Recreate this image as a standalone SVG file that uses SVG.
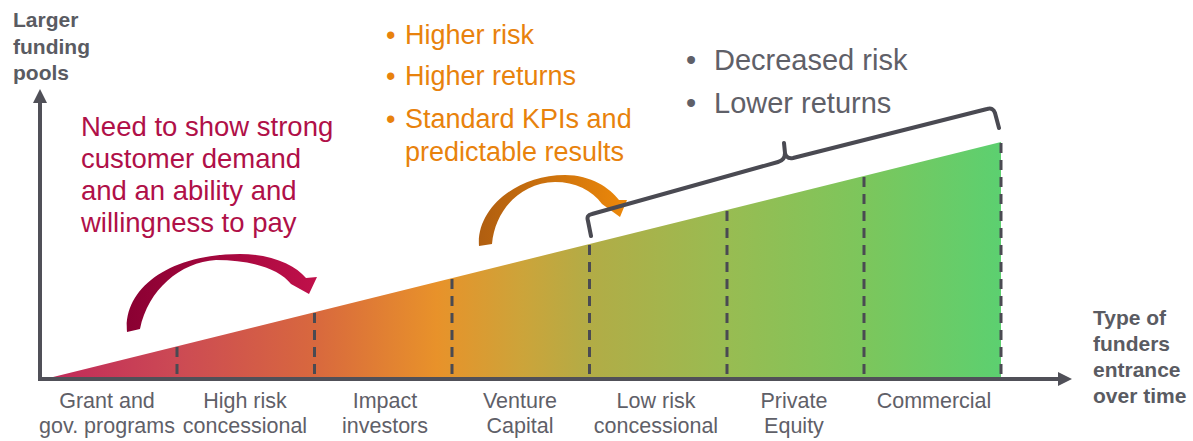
<svg xmlns="http://www.w3.org/2000/svg" width="1193" height="441" viewBox="0 0 1193 441">
  <style>
    .axis { stroke: #505058; stroke-width: 4; fill: none; }
    .axis-head { fill: #505058; }
    .divider { stroke: #4a4a52; stroke-width: 3; stroke-dasharray: 10 7; fill: none; }
    .brace { stroke: #4a4a52; stroke-width: 4; fill: none; stroke-linecap: round; stroke-linejoin: round; }
    .axis-label { font-family: "Liberation Sans", Arial, sans-serif; font-weight: bold; font-size: 21px; fill: #5a5b62; }
    .stage { font-family: "Liberation Sans", Arial, sans-serif; font-size: 21.5px; fill: #5f6068; text-anchor: middle; }
    .note-red { font-family: "Liberation Sans", Arial, sans-serif; font-size: 27.5px; fill: #b01048; }
    .note-orange { font-family: "Liberation Sans", Arial, sans-serif; font-size: 27px; fill: #e8820c; }
    .note-gray { font-family: "Liberation Sans", Arial, sans-serif; font-size: 29px; fill: #5f6068; }
  </style>
  <defs>
    <linearGradient id="rampFill" gradientUnits="userSpaceOnUse" x1="45" y1="0" x2="1001" y2="0">
      <stop offset="0" stop-color="#c0285a"/>
      <stop offset="0.138" stop-color="#cc4a54"/>
      <stop offset="0.282" stop-color="#d8683e"/>
      <stop offset="0.41" stop-color="#e8922a"/>
      <stop offset="0.5" stop-color="#cca43a"/>
      <stop offset="0.57" stop-color="#b2ac46"/>
      <stop offset="0.715" stop-color="#98bc52"/>
      <stop offset="0.857" stop-color="#7cc65c"/>
      <stop offset="1" stop-color="#5cd070"/>
    </linearGradient>
    <linearGradient id="redArrow" gradientUnits="userSpaceOnUse" x1="127" y1="0" x2="316" y2="0">
      <stop offset="0" stop-color="#8a0032"/>
      <stop offset="1" stop-color="#c0104a"/>
    </linearGradient>
    <linearGradient id="orangeArrow" gradientUnits="userSpaceOnUse" x1="479" y1="0" x2="626" y2="0">
      <stop offset="0" stop-color="#b05e10"/>
      <stop offset="1" stop-color="#ec880a"/>
    </linearGradient>
  </defs>

  <!-- rising funding ramp -->
  <g id="ramp">
    <polygon points="45,379 1001,142 1001,379" fill="url(#rampFill)"/>
  </g>

  <!-- stage dividers -->
  <g id="dividers">
    <line class="divider" x1="177" y1="347" x2="177" y2="379"/>
    <line class="divider" x1="314.5" y1="313" x2="314.5" y2="379"/>
    <line class="divider" x1="452" y1="279" x2="452" y2="379"/>
    <line class="divider" x1="589.5" y1="245" x2="589.5" y2="379"/>
    <line class="divider" x1="727" y1="211" x2="727" y2="379"/>
    <line class="divider" x1="864" y1="177" x2="864" y2="379"/>
    <line class="divider" x1="1001" y1="143" x2="1001" y2="379"/>
  </g>

  <!-- axes -->
  <g id="axes">
    <polyline class="axis" points="40,100 40,379 1060,379"/>
    <polygon class="axis-head" points="40,89 33,103 47,103"/>
    <polygon class="axis-head" points="1072,379 1058,372 1058,386"/>
  </g>

  <g id="y-axis-label">
    <text class="axis-label" x="13" y="27">Larger</text>
    <text class="axis-label" x="13" y="54">funding</text>
    <text class="axis-label" x="13" y="80">pools</text>
  </g>

  <g id="x-axis-label">
    <text class="axis-label" x="1093" y="325">Type of</text>
    <text class="axis-label" x="1093" y="351">funders</text>
    <text class="axis-label" x="1093" y="377">entrance</text>
    <text class="axis-label" x="1093" y="403">over time</text>
  </g>

  <!-- funder types along the time axis -->
  <g id="stage-grant"><text class="stage" x="107" y="408">Grant and</text><text class="stage" x="107" y="433">gov. programs</text></g>
  <g id="stage-high-risk"><text class="stage" x="245" y="408">High risk</text><text class="stage" x="245" y="433">concessional</text></g>
  <g id="stage-impact"><text class="stage" x="385" y="408">Impact</text><text class="stage" x="385" y="433">investors</text></g>
  <g id="stage-venture"><text class="stage" x="520" y="408">Venture</text><text class="stage" x="520" y="433">Capital</text></g>
  <g id="stage-low-risk"><text class="stage" x="656" y="408">Low risk</text><text class="stage" x="656" y="433">concessional</text></g>
  <g id="stage-private"><text class="stage" x="794" y="408">Private</text><text class="stage" x="794" y="433">Equity</text></g>
  <g id="stage-commercial"><text class="stage" x="934" y="408">Commercial</text></g>

  <!-- notes -->
  <g id="note-demand">
    <text class="note-red" x="81" y="136">Need to show strong</text>
    <text class="note-red" x="81" y="168">customer demand</text>
    <text class="note-red" x="81" y="200">and an ability and</text>
    <text class="note-red" x="81" y="232">willingness to pay</text>
  </g>

  <g id="note-risk-high">
    <text class="note-orange" x="386" y="44">•</text><text class="note-orange" x="405" y="44">Higher risk</text>
    <text class="note-orange" x="386" y="85">•</text><text class="note-orange" x="405" y="85">Higher returns</text>
    <text class="note-orange" x="386" y="128">•</text><text class="note-orange" x="405" y="128">Standard KPIs and</text>
    <text class="note-orange" x="405" y="161">predictable results</text>
  </g>

  <g id="note-risk-low">
    <text class="note-gray" x="686" y="70">•</text><text class="note-gray" x="714" y="70">Decreased risk</text>
    <text class="note-gray" x="686" y="113">•</text><text class="note-gray" x="714" y="113">Lower returns</text>
  </g>

  <!-- transition arrows and bracket -->
  <g id="connectors">
    <path d="M127,332 C123,288 170,254 240,254 C272,254 295,265 306,278 L317,277 L309,294 L291,284 C279,269 252,260 216,260 C180,262 148,290 140,329 Z" fill="url(#redArrow)"/>
    <path d="M479,246 C476,210 515,175 565,175 C591,175 610,188 619,200 L627,200 L620,217 L602,204 C592,190 575,182 555,182 C520,183 495,210 492,244 Z" fill="url(#orangeArrow)"/>
    <path class="brace" d="M591,236 L588,221 Q586,215 592,214 L778,162 Q785,160 785,153 L784,143 M785,153 Q786,159 793,158 L987,109 Q993,107 995,113 L999,128"/>
  </g>
</svg>
